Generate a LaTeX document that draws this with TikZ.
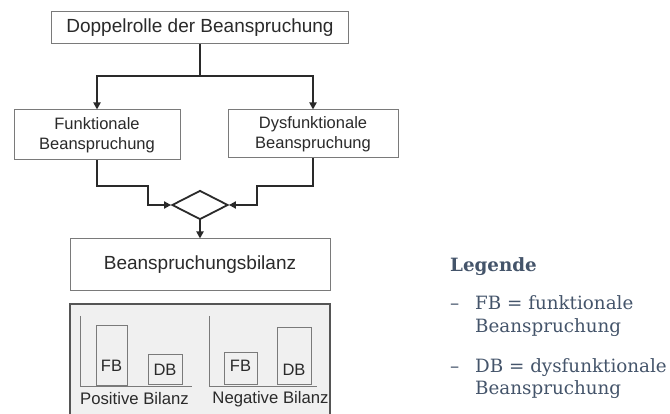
\documentclass[tikz,border=0pt]{standalone}
\usepackage{fontspec}
\setmainfont{Liberation Sans}
\newfontfamily\legendfont{DejaVu Serif}
\usetikzlibrary{arrows.meta,shapes.geometric}
\definecolor{ink}{HTML}{2A2A2A}
\definecolor{frame}{HTML}{7A7A7A}
\definecolor{panel}{HTML}{F0F0F0}
\definecolor{legendblue}{HTML}{44546A}
\tikzset{
  box/.style={draw=frame, line width=1pt, fill=white, text=ink, align=center, inner sep=0pt},
  flow/.style={draw=ink, line width=1.8pt},
  flowarrow/.style={flow, -{Triangle[length=7pt,width=7pt]}},
  bar/.style={draw=frame, line width=1pt, text=ink},
  axis/.style={draw=frame, line width=1pt},
  lbl/.style={text=ink, inner sep=0pt, font=\fontsize{16.5}{18}\selectfont},
  caption/.style={text=ink, inner sep=0pt, font=\fontsize{16.7}{18}\selectfont},
  legtext/.style={text=legendblue, inner sep=0pt, anchor=base west, font=\legendfont\fontsize{18.3}{22}\selectfont},
}
\begin{document}
\begin{tikzpicture}[x=1pt,y=-1pt]
\useasboundingbox (0,0) rectangle (670,414);

% main boxes
\node[box, minimum width=297pt, minimum height=32pt, font=\fontsize{19}{22}\selectfont] (top) at (200,28) {Doppelrolle der Beanspruchung};
\node[box, minimum width=166pt, minimum height=50pt, font=\fontsize{16.5}{20}\selectfont] (fb) at (97,135) {Funktionale\\Beanspruchung};
\node[box, minimum width=170pt, minimum height=48pt, font=\fontsize{16.5}{20}\selectfont] (db) at (313,134) {Dysfunktionale\\Beanspruchung};
\node[diamond, draw=ink, line width=1.8pt, inner sep=0pt, minimum width=56pt, minimum height=29pt] (dia) at (200,205) {};
\node[box, minimum width=260pt, minimum height=52pt, font=\fontsize{19}{22}\selectfont] (bil) at (200,265) {Beanspruchungsbilanz};

% connectors
\coordinate (split) at (200,76);
\coordinate (lbend) at (148,186);
\coordinate (rbend) at (257,186);
\draw[flow] (top.south) -- (split);
\draw[flowarrow] (split) -| (fb.north);
\draw[flowarrow] (split) -| (db.north);
\draw[flowarrow] (fb.south) |- (lbend) |- (dia.west);
\draw[flowarrow] (db.south) |- (rbend) |- (dia.east);
\draw[flowarrow] (dia.south) -- (bil.north);

% lower panel with the two balances
\node[draw=ink!80, line width=1.2pt, fill=panel, minimum width=260pt, minimum height=120pt, inner sep=0pt] (pan) at (200,364) {};

\draw[axis] (80,316) -- (80,386) -- (192,386);
\node[bar, minimum width=31pt, minimum height=59pt, inner sep=0pt] (pfb) at (111.5,355.5) {};
\node[lbl] at (111.5,366) {FB};
\node[bar, minimum width=34pt, minimum height=30pt, inner sep=0pt] (pdb) at (165,369.5) {};
\node[lbl] at (165,370) {DB};
\node[caption] (ptxt) at (134.5,399) {Positive Bilanz};

\draw[axis] (209,316) -- (209,386) -- (317,386);
\node[bar, minimum width=33pt, minimum height=32pt, inner sep=0pt] (nfb) at (240.5,368.5) {};
\node[lbl] at (240.5,366) {FB};
\node[bar, minimum width=34pt, minimum height=57pt, inner sep=0pt] (ndb) at (294,356) {};
\node[lbl] at (294,370) {DB};
\node[caption] (ntxt) at (270.5,399) {Negative Bilanz};

% legend
\node[legtext, font=\legendfont\bfseries\fontsize{18.3}{22}\selectfont] (leg) at (450,272) {Legende};
\node[legtext] (d1) at (450,310) {–};
\node[legtext] (l1a) at (475,310) {FB = funktionale};
\node[legtext] (l1b) at (475,333) {Beanspruchung};
\node[legtext] (d2) at (450,373) {–};
\node[legtext] (l2a) at (475,373) {DB = dysfunktionale};
\node[legtext] (l2b) at (475,395) {Beanspruchung};
\end{tikzpicture}
\end{document}
